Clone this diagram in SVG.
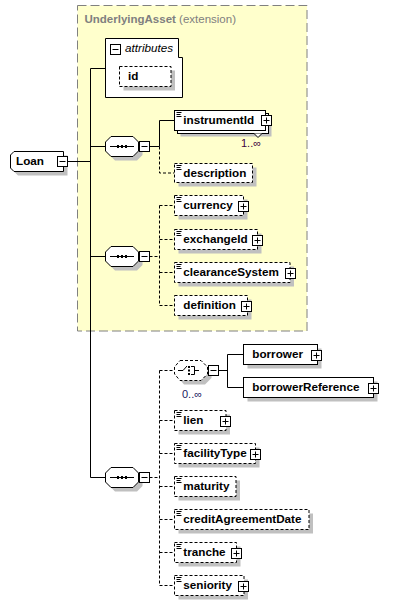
<svg xmlns="http://www.w3.org/2000/svg" xmlns:xlink="http://www.w3.org/1999/xlink" width="402" height="605" viewBox="0 0 402 605">
<style>
.bg{fill:#ffffff}
.box{fill:#ffffff;stroke:#000000;stroke-width:1}
.opt{stroke-dasharray:3,2}
.sh{fill:#c0c0c0;stroke:none}
.ln{fill:none;stroke:#000000;stroke-width:1}
.dl{stroke-dasharray:3,2}
.lbl{font-family:"Liberation Sans",Arial,sans-serif;font-weight:bold;font-size:11.7px;fill:#000000}
.occ{font-family:"Liberation Sans",Arial,sans-serif;font-size:11px}
</style>
<defs>
<g id="plus"><rect x="0.5" y="0.5" width="10" height="10" fill="#ffffff" stroke="#000000"/><path d="M2.5,5.5 H8.5 M5.5,2.5 V8.5" stroke="#000000" fill="none"/></g>
<g id="minus"><rect x="0.5" y="0.5" width="10" height="10" fill="#ffffff" stroke="#000000"/><path d="M2.5,5.5 H8.5" stroke="#000000" fill="none"/></g>
<g id="doc"><path d="M0,0.5 H5 M0,2.5 H4 M0,4.5 H5" stroke="#000000" fill="none"/></g>
<path id="oct" d="M6,0.5 H28 L33.5,6 V15 L28,20.5 H6 L0.5,15 V6 Z"/>
<g id="seq">
<use xlink:href="#oct" x="4" y="4" class="sh"/>
<use xlink:href="#oct" class="box"/>
<path d="M5,10.5 H29" stroke="#000000" fill="none"/>
<rect x="12" y="9" width="2" height="3" fill="#000000"/>
<rect x="16" y="9" width="2" height="3" fill="#000000"/>
<rect x="20" y="9" width="2" height="3" fill="#000000"/>
</g>
</defs>

<rect x="77.5" y="5.5" width="229.5" height="325.5" fill="#ffffcc" stroke="#808080" stroke-dasharray="9,4"/>
<text x="84.5" y="23" font-family="Liberation Sans, Arial, sans-serif" font-size="11.5px" fill="#808080"><tspan font-weight="bold">UnderlyingAsset</tspan> (extension)</text>

<g id="connectors">
<path class="ln" d="M90.5,68.5 V477.5"/>
<path class="ln" d="M90.5,68.5 H105.5"/>
<path class="ln" d="M68,161.5 H90.5"/>
<path class="ln" d="M90.5,146.5 H105.5"/>
<path class="ln" d="M90.5,256.5 H105.5"/>
<path class="ln" d="M90.5,477.5 H105.5"/>
<path class="ln" d="M149.5,146.5 H159.5 M159.5,146.5 V120.5 H174.5"/>
<path class="ln dl" d="M159.5,146.5 V173 H174.5"/>
<path class="ln dl" d="M149.5,256.5 H159.5 M159.5,205.5 V305.5 M159.5,205.5 H174.5 M159.5,239.5 H174.5 M159.5,272.5 H174.5 M159.5,305.5 H174.5"/>
<path class="ln dl" d="M149.5,477.5 H159.5 M159.5,370.5 V585.5 M159.5,370.5 H174.5 M159.5,420.5 H174.5 M159.5,453.5 H174.5 M159.5,486.5 H174.5 M159.5,519.5 H174.5 M159.5,552.5 H174.5 M159.5,585.5 H174.5"/>
<path class="ln" d="M218.5,370.5 H227.5 M227.5,354.5 V387.5 M227.5,354.5 H243.5 M227.5,387.5 H243.5"/>
</g>

<g id="Loan">
<path class="sh" d="M18,155.5 H67.5 V175.5 H18 L14.5,172 V159 Z"/>
<path class="box" d="M14,151.5 H63.5 V171.5 H14 L10.5,168 V155 Z"/>
<text class="lbl" x="16" y="165">Loan</text>
<use xlink:href="#minus" x="57" y="156"/>
</g>

<g id="attributes">
<path class="box" d="M105.5,38.5 H178.5 V57.5 H182.5 V97.5 H105.5 Z"/>
<use xlink:href="#minus" x="110" y="44"/>
<text x="125" y="52" font-family="Liberation Sans, Arial, sans-serif" font-style="italic" font-size="11.7px" fill="#000000">attributes</text>
</g>
<g id="id">
<rect class="sh" x="123.5" y="70.5" width="51.5" height="20"/>
<rect class="box opt" x="119.5" y="66.5" width="51.5" height="20"/>
<text class="lbl" x="128" y="80">id</text>
</g>

<g id="sequence1">
<use xlink:href="#seq" x="105" y="136"/>
<use xlink:href="#minus" x="139" y="141"/>
</g>
<g id="instrumentId">
<rect class="sh" x="180.5" y="116.5" width="91" height="20"/>
<rect class="box" x="177.5" y="113.5" width="91" height="20"/>
<path d="M254,133.5 L258,137.5 L262,133.5" fill="#ffffff" stroke="#000000"/>
<rect class="box" x="174.5" y="110.5" width="91" height="20"/>
<use xlink:href="#doc" x="176.5" y="112"/>
<text class="lbl" x="183.3" y="124.3">instrumentId</text>
<use xlink:href="#plus" x="261" y="115"/>
<text class="occ" x="241" y="147" fill="#400040">1..∞</text>
</g>
<g id="description">
<rect class="sh" x="178.5" y="167.5" width="78" height="19"/>
<rect class="box opt" x="174.5" y="163.5" width="78" height="19"/>
<use xlink:href="#doc" x="176.5" y="165"/>
<text class="lbl" x="183.3" y="177">description</text>
</g>

<g id="sequence2">
<use xlink:href="#seq" x="105" y="246"/>
<use xlink:href="#minus" x="139" y="251"/>
</g>
<g id="currency">
<rect class="sh" x="178.5" y="199.5" width="69" height="20"/>
<rect class="box opt" x="174.5" y="195.5" width="69" height="20"/>
<use xlink:href="#doc" x="176.5" y="197"/>
<text class="lbl" x="183.3" y="209.3">currency</text>
<use xlink:href="#plus" x="238" y="201"/>
</g>
<g id="exchangeId">
<rect class="sh" x="178.5" y="233.5" width="83" height="20"/>
<rect class="box opt" x="174.5" y="229.5" width="83" height="20"/>
<use xlink:href="#doc" x="176.5" y="231"/>
<text class="lbl" x="183.3" y="243.3">exchangeId</text>
<use xlink:href="#plus" x="252" y="235"/>
</g>
<g id="clearanceSystem">
<rect class="sh" x="178.5" y="266.5" width="115.5" height="20"/>
<rect class="box opt" x="174.5" y="262.5" width="115.5" height="20"/>
<use xlink:href="#doc" x="176.5" y="264"/>
<text class="lbl" x="183.3" y="276.3">clearanceSystem</text>
<use xlink:href="#plus" x="285" y="268"/>
</g>
<g id="definition">
<rect class="sh" x="178.5" y="299.5" width="73" height="20"/>
<rect class="box opt" x="174.5" y="295.5" width="73" height="20"/>
<text class="lbl" x="183.3" y="309.3">definition</text>
<use xlink:href="#plus" x="241" y="301"/>
</g>

<g id="sequence3">
<use xlink:href="#seq" x="105" y="467"/>
<use xlink:href="#minus" x="139" y="472"/>
</g>
<g id="choice">
<path class="sh" d="M184,364.5 H205 L211.5,371 V378 L205,384.5 H184 L178.5,378 V371 Z"/>
<path class="box opt" d="M180,360.5 H201 L207.5,367 V374 L201,380.5 H180 L174.5,374 V367 Z"/>
<path class="ln" d="M178,370.5 H183 L187,366"/>
<rect x="188" y="366" width="2" height="2" fill="#000000"/>
<rect x="188" y="369.5" width="2" height="2" fill="#000000"/>
<rect x="188" y="373" width="2" height="2" fill="#000000"/>
<path class="ln" d="M191,366.5 H194.5 V374.5 H191 M194.5,370.5 H199"/>
<use xlink:href="#minus" x="208" y="365"/>
<text class="occ" x="182" y="398" fill="#202060">0..∞</text>
</g>
<g id="borrower">
<rect class="sh" x="247.5" y="348.5" width="74" height="20"/>
<rect class="box" x="243.5" y="344.5" width="74" height="20"/>
<text class="lbl" x="252.3" y="358.3">borrower</text>
<use xlink:href="#plus" x="311" y="350"/>
</g>
<g id="borrowerReference">
<rect class="sh" x="247.5" y="381.5" width="130" height="20"/>
<rect class="box" x="243.5" y="377.5" width="130" height="20"/>
<text class="lbl" x="252.3" y="391.3">borrowerReference</text>
<use xlink:href="#plus" x="368" y="383"/>
</g>
<g id="lien">
<rect class="sh" x="178.5" y="414.5" width="51.5" height="20"/>
<rect class="box opt" x="174.5" y="410.5" width="51.5" height="20"/>
<use xlink:href="#doc" x="176.5" y="412"/>
<text class="lbl" x="183.3" y="424.3">lien</text>
<use xlink:href="#plus" x="220" y="416"/>
</g>
<g id="facilityType">
<rect class="sh" x="178.5" y="447.5" width="81" height="20"/>
<rect class="box opt" x="174.5" y="443.5" width="81" height="20"/>
<use xlink:href="#doc" x="176.5" y="445"/>
<text class="lbl" x="183.3" y="457.3">facilityType</text>
<use xlink:href="#plus" x="250" y="449"/>
</g>
<g id="maturity">
<rect class="sh" x="178.5" y="480.5" width="61.5" height="20"/>
<rect class="box opt" x="174.5" y="476.5" width="61.5" height="20"/>
<use xlink:href="#doc" x="176.5" y="478"/>
<text class="lbl" x="183.3" y="490.3">maturity</text>
</g>
<g id="creditAgreementDate">
<rect class="sh" x="178.5" y="513.5" width="134.5" height="20"/>
<rect class="box opt" x="174.5" y="509.5" width="134.5" height="20"/>
<use xlink:href="#doc" x="176.5" y="511"/>
<text class="lbl" x="183.3" y="523.3">creditAgreementDate</text>
</g>
<g id="tranche">
<rect class="sh" x="178.5" y="546.5" width="62" height="20"/>
<rect class="box opt" x="174.5" y="542.5" width="62" height="20"/>
<use xlink:href="#doc" x="176.5" y="544"/>
<text class="lbl" x="183.3" y="556.3">tranche</text>
<use xlink:href="#plus" x="231" y="548"/>
</g>
<g id="seniority">
<rect class="sh" x="178.5" y="579.5" width="69.5" height="20"/>
<rect class="box opt" x="174.5" y="575.5" width="69.5" height="20"/>
<use xlink:href="#doc" x="176.5" y="577"/>
<text class="lbl" x="183.3" y="589.3">seniority</text>
<use xlink:href="#plus" x="238" y="581"/>
</g>
</svg>
